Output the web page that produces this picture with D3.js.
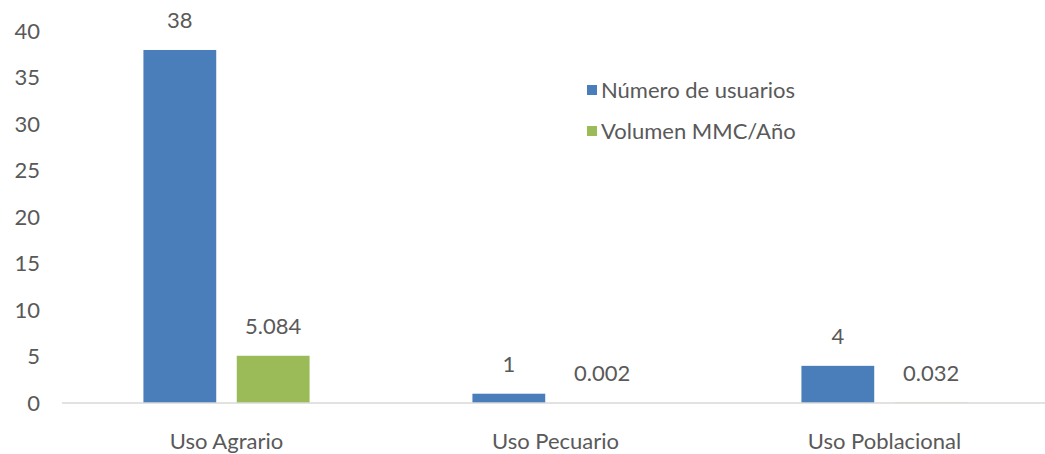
<!DOCTYPE html>
<html>
<head>
<meta charset="utf-8">
<script src="https://cdn.jsdelivr.net/npm/d3@7"></script>
<style>
  body { margin: 0; background: #fff; }
  svg { font-family: Lato, "Open Sans", sans-serif; }
</style>
</head>
<body>
<svg width="1045" height="454"></svg>
<script>
const CATEGORIES = ["Uso Agrario", "Uso Pecuario", "Uso Poblacional"];
const SERIES = ["Número de usuarios", "Volumen MMC/Año"];
const USUARIOS = [38, 1, 4];
const VOLUMEN = [5.084, 0.002, 0.032];
const VOLUMEN_LABELS = ["5.084", "0.002", "0.032"];
const Y_TICKS = [0, 5, 10, 15, 20, 25, 30, 35, 40];
const COLORS = ["#4a7ebb", "#9bbb59"];

var svg = d3.select("svg"),
    textColor = "#595959";

var x0 = d3.scaleBand().domain(CATEGORIES).range([62, 1049])
        .paddingInner(0.495).paddingOuter(0.2475),
    x1 = d3.scaleBand().domain(SERIES).range([0, x0.bandwidth()]).paddingInner(0.22),
    y = d3.scaleLinear().domain([0, 40]).range([403, 31.4]);

// y axis labels only
var yAxis = svg.append("g")
    .attr("transform", "translate(40,0)")
    .call(d3.axisLeft(y).tickValues(Y_TICKS).tickSize(0).tickPadding(0));
yAxis.select(".domain").remove();
yAxis.selectAll("text")
    .attr("fill", textColor)
    .attr("font-size", "22px")
    .attr("font-family", "Lato, sans-serif");

var rows = CATEGORIES.map(function(c, i) {
    return [
        { cat: c, s: SERIES[0], v: USUARIOS[i], label: String(USUARIOS[i]) },
        { cat: c, s: SERIES[1], v: VOLUMEN[i], label: VOLUMEN_LABELS[i] }
    ];
});

var groups = svg.selectAll(".grp")
    .data(rows)
    .enter().append("g")
    .attr("class", "grp")
    .attr("transform", function(d, i) { return "translate(" + x0(CATEGORIES[i]) + ",0)"; });

groups.selectAll("rect")
    .data(function(d) { return d; })
    .enter().append("rect")
    .attr("x", function(d) { return x1(d.s); })
    .attr("y", function(d) { return y(d.v); })
    .attr("width", x1.bandwidth())
    .attr("height", function(d) { return y(0) - y(d.v); })
    .attr("fill", function(d, i) { return COLORS[i]; });

groups.selectAll("text")
    .data(function(d) { return d; })
    .enter().append("text")
    .attr("x", function(d) { return x1(d.s) + x1.bandwidth() / 2; })
    .attr("y", function(d) { return y(d.v) - 22; })
    .attr("text-anchor", "middle")
    .attr("font-size", "22px")
    .attr("fill", textColor)
    .text(function(d) { return d.label; });

// baseline
svg.append("line")
    .attr("x1", 62).attr("x2", 1049)
    .attr("y1", y(0)).attr("y2", y(0))
    .attr("stroke", "#d9d9d9")
    .attr("stroke-width", 1.5);

// category labels
svg.selectAll(".cat")
    .data(CATEGORIES)
    .enter().append("text")
    .attr("class", "cat")
    .attr("x", function(d) { return x0(d) + x0.bandwidth() / 2; })
    .attr("y", y(0) + 46)
    .attr("text-anchor", "middle")
    .attr("font-size", "22px")
    .attr("fill", textColor)
    .text(function(d) { return d; });

// legend
var legend = svg.selectAll(".leg")
    .data(SERIES)
    .enter().append("g")
    .attr("class", "leg")
    .attr("transform", function(d, i) { return "translate(587," + (85 + i * 41) + ")"; });

legend.append("rect")
    .attr("width", 10).attr("height", 10)
    .attr("fill", function(d, i) { return COLORS[i]; });

legend.append("text")
    .attr("x", 14)
    .attr("y", 13)
    .attr("font-size", "22px")
    .attr("fill", textColor)
    .text(function(d) { return d; });
</script>
</body>
</html>
